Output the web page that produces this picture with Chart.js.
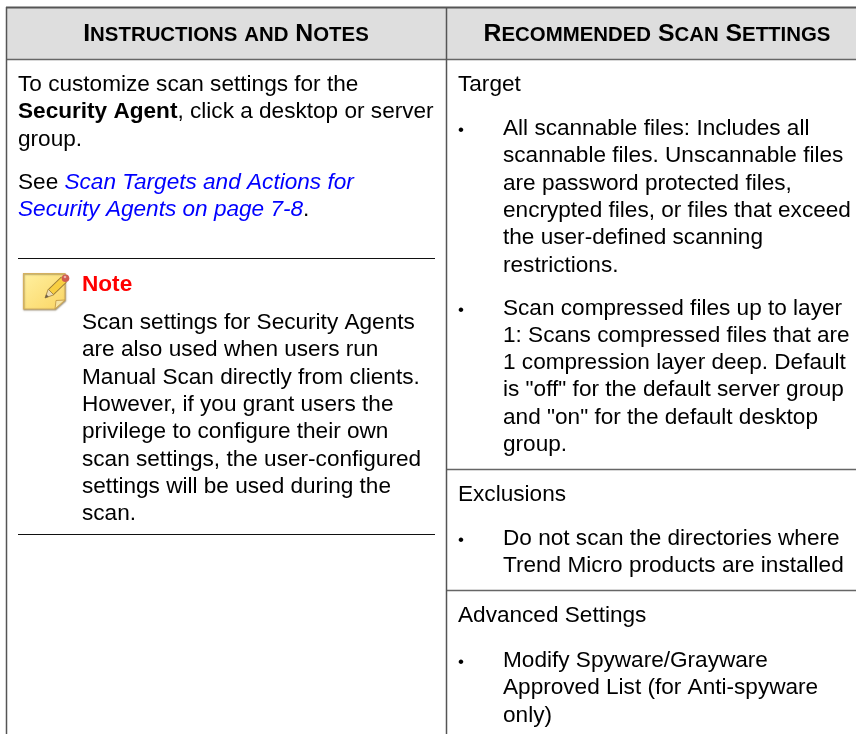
<!DOCTYPE html>
<html>
<head>
<meta charset="utf-8">
<title>Recommended Scan Settings</title>
<script src="https://cdn.jsdelivr.net/npm/chart.js@4"></script>
<style>
  html, body { margin: 0; padding: 0; background: #fff; }
  canvas { display: block; }
</style>
</head>
<body>
<canvas id="scanTable" width="856" height="734"></canvas>
<script>
// ---- Table content ---------------------------------------------------------
const columnHeaders = ['Instructions and Notes', 'Recommended Scan Settings'];

const introLines = [
  'To customize scan settings for the',
  'Security Agent, click a desktop or server',
  'group.'
];
const seeLines = [
  'See Scan Targets and Actions for',
  'Security Agents on page 7-8.'
];
const noteTitle = 'Note';
const noteLines = [
  'Scan settings for Security Agents',
  'are also used when users run',
  'Manual Scan directly from clients.',
  'However, if you grant users the',
  'privilege to configure their own',
  'scan settings, the user-configured',
  'settings will be used during the',
  'scan.'
];
const boldPhrases = ['Security Agent'];
const linkPhrases = ['Scan Targets and Actions for', 'Security Agents on page 7-8'];

const targetTitle = 'Target';
const targetBulletA = [
  'All scannable files: Includes all',
  'scannable files. Unscannable files',
  'are password protected files,',
  'encrypted files, or files that exceed',
  'the user-defined scanning',
  'restrictions.'
];
const targetBulletB = [
  'Scan compressed files up to layer',
  '1: Scans compressed files that are',
  '1 compression layer deep. Default',
  'is "off" for the default server group',
  'and "on" for the default desktop',
  'group.'
];
const exclusionsTitle = 'Exclusions';
const exclusionsBullet = [
  'Do not scan the directories where',
  'Trend Micro products are installed'
];
const advancedTitle = 'Advanced Settings';
const advancedBullet = [
  'Modify Spyware/Grayware',
  'Approved List (for Anti-spyware',
  'only)'
];

// ---- Layout (page pixels, same as the hidden axes) -------------------------
const FONT = '"Liberation Sans", Arial, sans-serif';
const BODY_SIZE = 22.6;
const BULLET_SIZE = 17;
const LINE_STEP = 27.3;
const LEFT_X = 18, RIGHT_X = 458, BULLET_X = 458, BULLET_TEXT_X = 503, NOTE_X = 82;

const BOLD_RUNS = boldPhrases.map(p => [p, 'bold', '#000000']);
const LINK_RUNS = linkPhrases.map(p => [p, 'italic', '#0000ff']);

const textBlocks = [
  { lines: introLines, x: LEFT_X, y: 91, runs: BOLD_RUNS },
  { lines: seeLines, x: LEFT_X, y: 189, runs: LINK_RUNS },
  { lines: noteLines, x: NOTE_X, y: 329 },
  { lines: [targetTitle], x: RIGHT_X, y: 91 },
  { lines: targetBulletA, x: BULLET_TEXT_X, y: 135, bullet: true },
  { lines: targetBulletB, x: BULLET_TEXT_X, y: 314.5, bullet: true },
  { lines: [exclusionsTitle], x: RIGHT_X, y: 501 },
  { lines: exclusionsBullet, x: BULLET_TEXT_X, y: 545, bullet: true },
  { lines: [advancedTitle], x: RIGHT_X, y: 622 },
  { lines: advancedBullet, x: BULLET_TEXT_X, y: 667, bullet: true }
];

function rule(x1, y1, x2, y2, color, width) {
  return {
    data: [{ x: x1, y: y1 }, { x: x2, y: y2 }],
    showLine: true, borderColor: color, borderWidth: width, pointRadius: 0
  };
}

const tableRules = [
  rule(6, 7.5, 856, 7.5, '#555555', 2),
  rule(6.5, 7, 6.5, 734, '#555555', 1.5),
  rule(446.5, 7, 446.5, 734, '#555555', 1.5),
  rule(6, 59.5, 856, 59.5, '#666666', 1.5),
  rule(18, 258.5, 435, 258.5, '#111111', 1.2),
  rule(18, 534.5, 435, 534.5, '#111111', 1.2),
  rule(446, 469.5, 856, 469.5, '#666666', 1.5),
  rule(446, 590.5, 856, 590.5, '#666666', 1.5)
];

// ---- Drawing helpers ---------------------------------------------------------

/** Splits a line on the block's emphasised phrases and draws each run in its own style. */
function drawRichLine(ctx, line, x, y, phrases) {
  let rest = line, penX = x;
  while (rest.length) {
    let hit = null, at = rest.length;
    phrases.forEach(p => {
      const i = rest.indexOf(p[0]);
      if (i >= 0 && i < at) { at = i; hit = p; }
    });
    if (at > 0) {
      ctx.font = `${BODY_SIZE}px ${FONT}`;
      ctx.fillStyle = '#000000';
      ctx.fillText(rest.slice(0, at), penX, y);
      penX += ctx.measureText(rest.slice(0, at)).width;
    }
    if (!hit) break;
    ctx.font = `${hit[1]} ${BODY_SIZE}px ${FONT}`;
    ctx.fillStyle = hit[2];
    ctx.fillText(hit[0], penX, y);
    penX += ctx.measureText(hit[0]).width;
    rest = rest.slice(at + hit[0].length);
  }
}

/** Header text in hand-made small caps: capitals big, the rest smaller. */
function drawSmallCaps(ctx, text, centerX, y) {
  const BIG = 24.8, SMALL = 20.4;
  const runs = text.match(/[A-Z ]+|[a-z]+/g).map(t => ({ t, small: /[a-z]/.test(t) }));
  let total = 0;
  runs.forEach(r => {
    ctx.font = `bold ${r.small ? SMALL : BIG}px ${FONT}`;
    r.w = ctx.measureText(r.t.toUpperCase()).width;
    total += r.w;
  });
  let penX = centerX - total / 2;
  ctx.fillStyle = '#000000';
  runs.forEach(r => {
    ctx.font = `bold ${r.small ? SMALL : BIG}px ${FONT}`;
    ctx.fillText(r.t.toUpperCase(), penX, y);
    penX += r.w;
  });
}

function drawNoteIcon(ctx, x, y) {
  ctx.save();
  ctx.translate(x, y);
  // sticky note with folded corner
  const g = ctx.createLinearGradient(0, 0, 30, 37);
  g.addColorStop(0, '#fff0a0');
  g.addColorStop(1, '#fbd96c');
  ctx.save();
  ctx.shadowColor = 'rgba(90,70,30,0.5)';
  ctx.shadowBlur = 1.5;
  ctx.shadowOffsetX = 0.5;
  ctx.shadowOffsetY = 1;
  ctx.fillStyle = g;
  ctx.strokeStyle = '#d4b060';
  ctx.lineWidth = 1.2;
  ctx.beginPath();
  ctx.moveTo(0.5, 0.5); ctx.lineTo(42, 0.5); ctx.lineTo(42, 27);
  ctx.lineTo(32, 36); ctx.lineTo(0.5, 36); ctx.closePath();
  ctx.fill(); ctx.stroke();
  ctx.restore();
  ctx.fillStyle = '#f6e4a4';
  ctx.strokeStyle = '#c9a24e';
  ctx.lineWidth = 1;
  ctx.beginPath();
  ctx.moveTo(42, 27); ctx.lineTo(33, 27.5); ctx.lineTo(32, 36); ctx.closePath();
  ctx.fill(); ctx.stroke();
  // pencil, tip lower left, eraser upper right
  ctx.lineCap = 'butt';
  ctx.strokeStyle = '#9a7a35'; ctx.lineWidth = 8;
  ctx.beginPath(); ctx.moveTo(28, 19); ctx.lineTo(41, 6.5); ctx.stroke();
  ctx.strokeStyle = '#f8cf42'; ctx.lineWidth = 6.4;
  ctx.beginPath(); ctx.moveTo(28, 19); ctx.lineTo(41, 6.5); ctx.stroke();
  ctx.fillStyle = '#ecdcb4';
  ctx.strokeStyle = '#9a7a35';
  ctx.lineWidth = 0.8;
  ctx.beginPath();
  ctx.moveTo(22, 25); ctx.lineTo(25.2, 16.2); ctx.lineTo(30.8, 21.8); ctx.closePath();
  ctx.fill(); ctx.stroke();
  ctx.fillStyle = '#6e6048';
  ctx.beginPath();
  ctx.moveTo(22, 25); ctx.lineTo(23.2, 21.3); ctx.lineTo(25.8, 23.8); ctx.closePath();
  ctx.fill();
  ctx.fillStyle = '#cf5b50';
  ctx.beginPath(); ctx.arc(42.5, 5.2, 3.8, 0, Math.PI * 2); ctx.fill();
  ctx.fillStyle = '#e9b0a8';
  ctx.beginPath(); ctx.arc(42, 4, 1.3, 0, Math.PI * 2); ctx.fill();
  ctx.restore();
}

// ---- Chart ---------------------------------------------------------------------
const tablePlugin = {
  id: 'tablePlugin',
  beforeDatasetsDraw(chart) {
    const { ctx, scales: { x, y } } = chart;
    ctx.save();
    ctx.fillStyle = '#dedede';
    ctx.fillRect(x.getPixelForValue(6), y.getPixelForValue(8), x.getPixelForValue(856) - x.getPixelForValue(6), y.getPixelForValue(59) - y.getPixelForValue(8));
    ctx.restore();
  },
  afterDatasetsDraw(chart) {
    const { ctx, scales: { x, y } } = chart;
    ctx.save();
    ctx.textBaseline = 'alphabetic';
    ctx.textAlign = 'left';

    drawSmallCaps(ctx, columnHeaders[0], x.getPixelForValue(226), y.getPixelForValue(41));
    drawSmallCaps(ctx, columnHeaders[1], x.getPixelForValue(657), y.getPixelForValue(41));

    textBlocks.forEach(block => {
      block.lines.forEach((line, i) => {
        drawRichLine(ctx, line, x.getPixelForValue(block.x), y.getPixelForValue(block.y + i * LINE_STEP), block.runs || []);
      });
      if (block.bullet) {
        ctx.font = `${BULLET_SIZE}px ${FONT}`;
        ctx.fillStyle = '#000000';
        ctx.fillText('•', x.getPixelForValue(BULLET_X), y.getPixelForValue(block.y));
      }
    });

    ctx.font = `bold ${BODY_SIZE}px ${FONT}`;
    ctx.fillStyle = '#ff0000';
    ctx.fillText(noteTitle, x.getPixelForValue(NOTE_X), y.getPixelForValue(291));

    drawNoteIcon(ctx, x.getPixelForValue(23), y.getPixelForValue(273));
    ctx.restore();
  }
};

new Chart(document.getElementById('scanTable').getContext('2d'), {
  type: 'scatter',
  data: { datasets: tableRules },
  options: {
    responsive: false,
    animation: false,
    events: [],
    layout: { padding: 0 },
    plugins: { legend: { display: false }, tooltip: { enabled: false } },
    scales: {
      x: { type: 'linear', display: false, min: 0, max: 856 },
      y: { type: 'linear', display: false, min: 0, max: 734, reverse: true }
    }
  },
  plugins: [tablePlugin]
});
</script>
</body>
</html>
